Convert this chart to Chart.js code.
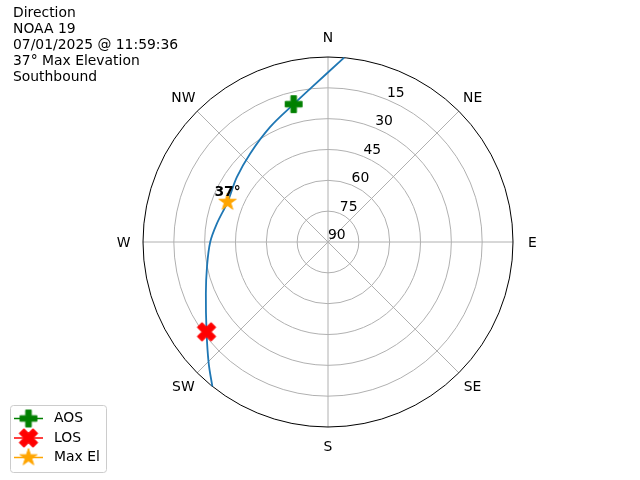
<!DOCTYPE html>
<html lang="en">
<head>
<meta charset="UTF-8" />
<title>NOAA 19 Pass</title>
<script src="https://cdn.jsdelivr.net/npm/chart.js"></script>
<style>
    html, body { margin: 0; padding: 0; background: #fff; }
    #wrap { width: 640px; height: 480px; position: relative; }
</style>
</head>
<body>
<div id="wrap"><canvas id="passChart"></canvas></div>
<script>
// track: azimuth (deg clockwise from N) and elevation (deg)
const trackAz = [5, 353.3, 346, 333.2, 318.6, 305.4, 291.7, 279.4, 270, 258.4, 247.1, 233.5, 224.5, 218.7];
const trackEl = [0, 15, 20.9, 27.4, 32.7, 35.6, 37.4, 35.2, 32.7, 29.9, 25.5, 16.5, 7.2, 0];
const aosPoint = [346, 20.9];
const losPoint = [233.5, 16.5];
const maxElPoint = [291.7, 37.4];
const maxElLabel = '37°';
const dirLabels = ['N', 'NE', 'E', 'SE', 'S', 'SW', 'W', 'NW'];
const elTicks = [15, 30, 45, 60, 75, 90];
const titleLines = ['Direction', 'NOAA 19', '07/01/2025 @ 11:59:36', '37° Max Elevation', 'Southbound'];

const FONT = '"DejaVu Sans", sans-serif';

// polar (az, el) -> plain x/y, 90 el at centre, horizon at radius 90
function toXY(az, el) {
    const a = az * Math.PI / 180;
    return { x: (90 - el) * Math.sin(a), y: (90 - el) * Math.cos(a) };
}

// small filled marker images like matplotlib's P, X and *
function markerCanvas(kind, color) {
    const c = document.createElement('canvas');
    c.width = 26; c.height = 26;
    const g = c.getContext('2d');
    g.translate(13, 13);
    g.fillStyle = color;
    g.strokeStyle = color;
    g.lineWidth = 1;
    g.lineJoin = 'round';
    g.beginPath();
    if (kind === 'star') {
        const ro = 9, ri = ro * 0.382;
        for (let i = 0; i < 10; i++) {
            const r = i % 2 ? ri : ro;
            const t = -Math.PI / 2 + i * Math.PI / 5;
            g.lineTo(r * Math.cos(t), r * Math.sin(t));
        }
    } else {
        if (kind === 'x') g.rotate(Math.PI / 4);
        const a = kind === 'x' ? 3.2 : 2.8, b = kind === 'x' ? 9.6 : 8.4;
        const pts = [[-a,-b],[a,-b],[a,-a],[b,-a],[b,a],[a,a],[a,b],[-a,b],[-a,a],[-b,a],[-b,-a],[-a,-a]];
        pts.forEach(p => g.lineTo(p[0], p[1]));
    }
    g.closePath();
    g.fill();
    g.stroke();
    return c;
}

const aosImg = markerCanvas('plus', '#008000');
const losImg = markerCanvas('x', '#ff0000');
const maxImg = markerCanvas('star', '#ffa500');

const trackData = trackAz.map((az, i) => toXY(az, trackEl[i]));

const polarGrid = {
    id: 'polarGrid',
    beforeDatasetsDraw(chart) {
        const ctx = chart.ctx, sx = chart.scales.x, sy = chart.scales.y;
        const cx = sx.getPixelForValue(0), cy = sy.getPixelForValue(0);
        const unit = sx.getPixelForValue(1) - cx;
        ctx.save();
        ctx.strokeStyle = '#b0b0b0';
        ctx.lineWidth = 1;
        elTicks.forEach(el => {
            if (el >= 90) return;
            ctx.beginPath();
            ctx.arc(cx, cy, (90 - el) * unit, 0, Math.PI * 2);
            ctx.stroke();
        });
        dirLabels.forEach((d, i) => {
            const p = toXY(i * 45, 0);
            ctx.beginPath();
            ctx.moveTo(cx, cy);
            ctx.lineTo(sx.getPixelForValue(p.x), sy.getPixelForValue(p.y));
            ctx.stroke();
        });
        ctx.strokeStyle = '#000';
        ctx.lineWidth = 1;
        ctx.beginPath();
        ctx.arc(cx, cy, 90 * unit, 0, Math.PI * 2);
        ctx.stroke();

        ctx.fillStyle = '#000';
        ctx.font = '13.9px ' + FONT;
        ctx.textAlign = 'center';
        ctx.textBaseline = 'middle';
        const R = 90 * unit + 19.5;
        dirLabels.forEach((d, i) => {
            const a = i * 45 * Math.PI / 180;
            ctx.fillText(d, cx + R * Math.sin(a), cy - R * Math.cos(a) + 1);
        });
        ctx.textAlign = 'left';
        ctx.textBaseline = 'alphabetic';
        elTicks.forEach(el => {
            const p = toXY(22.5, el);
            ctx.fillText(String(el), sx.getPixelForValue(p.x), sy.getPixelForValue(p.y) - 3);
        });
        ctx.restore();
    },
    afterDraw(chart) {
        const ctx = chart.ctx, sx = chart.scales.x, sy = chart.scales.y;
        ctx.save();
        ctx.fillStyle = '#000';
        ctx.font = '13.9px ' + FONT;
        ctx.textAlign = 'left';
        ctx.textBaseline = 'alphabetic';
        titleLines.forEach((t, i) => ctx.fillText(t, 13, 17 + i * 16));

        // max elevation annotation
        const m = toXY(maxElPoint[0], maxElPoint[1]);
        ctx.font = 'bold 13.9px ' + FONT;
        ctx.textAlign = 'center';
        ctx.fillText(maxElLabel, sx.getPixelForValue(m.x), sy.getPixelForValue(m.y) - 6);

        // legend
        const entries = [
            { label: 'AOS', color: '#008000', img: aosImg },
            { label: 'LOS', color: '#ff0000', img: losImg },
            { label: 'Max El', color: '#ffa500', img: maxImg }
        ];
        ctx.fillStyle = 'rgba(255,255,255,0.8)';
        ctx.strokeStyle = '#cccccc';
        ctx.lineWidth = 1;
        ctx.beginPath();
        ctx.roundRect(10.5, 405.5, 96, 67, 3);
        ctx.fill();
        ctx.stroke();
        ctx.font = '13.9px ' + FONT;
        ctx.textAlign = 'left';
        ctx.textBaseline = 'middle';
        entries.forEach((e, i) => {
            const y = 418.5 + i * 19.5;
            ctx.strokeStyle = e.color;
            ctx.lineWidth = 1.5;
            ctx.beginPath();
            ctx.moveTo(14, y);
            ctx.lineTo(43, y);
            ctx.stroke();
            ctx.drawImage(e.img, 28.5 - 13, y - 13);
            ctx.fillStyle = '#000';
            ctx.fillText(e.label, 54, y);
        });
        ctx.restore();
    }
};

new Chart(document.getElementById('passChart').getContext('2d'), {
    type: 'scatter',
    data: {
        datasets: [
            { label: 'AOS', data: [toXY(aosPoint[0], aosPoint[1])], pointStyle: aosImg, order: 1 },
            { label: 'LOS', data: [toXY(losPoint[0], losPoint[1])], pointStyle: losImg, order: 1 },
            { label: 'Max El', data: [toXY(maxElPoint[0], maxElPoint[1])], pointStyle: maxImg, order: 1 },
            {
                label: 'Track',
                data: trackData,
                showLine: true,
                borderColor: '#1f77b4',
                borderWidth: 1.8,
                pointRadius: 0,
                tension: 0.35,
                order: 5
            }
        ]
    },
    options: {
        responsive: true,
        maintainAspectRatio: false,
        animation: false,
        layout: { padding: { left: 143, right: 127, top: 57, bottom: 53 } },
        scales: {
            x: { type: 'linear', min: -90, max: 90, display: false },
            y: { type: 'linear', min: -90, max: 90, display: false }
        },
        plugins: {
            legend: { display: false },
            tooltip: { enabled: false }
        }
    },
    plugins: [polarGrid]
});
</script>
</body>
</html>
